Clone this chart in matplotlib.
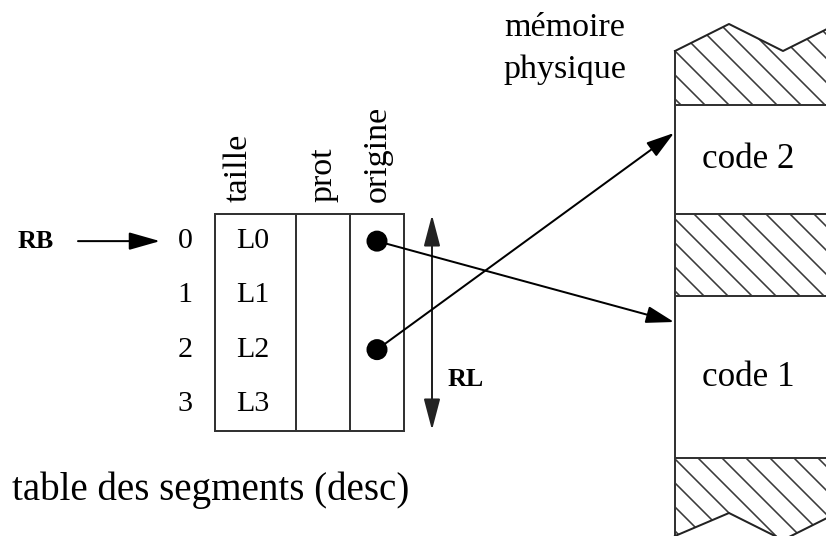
import matplotlib.pyplot as plt
from matplotlib.patches import Polygon, Rectangle, Circle

# table data
row_ids = ['0', '1', '2', '3']
sizes = ['L0', 'L1', 'L2', 'L3']
columns = ['taille', 'prot', 'origine']
# segment descriptors pointing into memory: row index -> memory block label
pointers = [(0, 'code 1'), (2, 'code 2')]
# physical memory blocks from top to bottom ('' = hatched / not allocated)
mem_blocks = ['', 'code 2', '', 'code 1', '']

# layout (pixel coords, y downwards)
W, H = 826, 536
DPI = 144
col_edges = [215, 296, 350, 404]
tab_top, row_h = 214, 54.25
mem_x = 675
mem_edges = [51, 105, 214, 296, 458, 536]

plt.rcParams['hatch.linewidth'] = 0.8
serif = 'Liberation Serif'

fig = plt.figure(figsize=(W / DPI, H / DPI), dpi=DPI)
ax = fig.add_axes([0, 0, 1, 1])
ax.set_xlim(0, W)
ax.set_ylim(H, 0)
ax.axis('off')

# --- table ---
n = len(row_ids)
tab_bot = tab_top + n * row_h
ax.add_patch(Rectangle((col_edges[0], tab_top), col_edges[-1] - col_edges[0],
                       tab_bot - tab_top, fill=False, lw=1.0, ec='#333333'))
for x in col_edges[1:-1]:
    ax.plot([x, x], [tab_top, tab_bot], color='#333333', lw=1.0)

for j, name in enumerate(columns):
    xc = (col_edges[j] + col_edges[j + 1]) / 2 + [-17, 0, 0][j]
    ax.text(xc, 202, name, rotation=90, ha='center', va='bottom',
            fontsize=17, family=serif)

for i, (rid, sz) in enumerate(zip(row_ids, sizes)):
    yc = tab_top + (i + 0.5) * row_h
    ax.text(185, yc, rid, ha='center', va='center', fontsize=15, family=serif)
    ax.text(253, yc, sz, ha='center', va='center', fontsize=15, family=serif)

# RB pointer
y0 = tab_top + 0.5 * row_h
ax.text(36, y0, 'RB', ha='center', va='center', fontsize=13, family=serif,
        weight='bold')
ax.annotate('', xy=(160, y0), xytext=(78, y0),
            arrowprops=dict(arrowstyle='-|>,head_length=0.95,head_width=0.27',
                            mutation_scale=14, lw=1.0, color='black',
                            shrinkA=0, shrinkB=0))

# RL double arrow
ax.annotate('', xy=(432, tab_top + 1), xytext=(432, tab_bot - 1),
            arrowprops=dict(arrowstyle='<|-|>,head_length=0.95,head_width=0.25',
                            mutation_scale=14, lw=1.0, color='#222222',
                            shrinkA=0, shrinkB=0))
ax.text(466, 380, 'RL', ha='center', va='center', fontsize=13, family=serif,
        weight='bold')

# --- physical memory ---
jag = 54
top_jag = [(mem_x, 51), (mem_x + jag, 24), (mem_x + 2 * jag, 51), (mem_x + 3 * jag, 24)]
bot_jag = [(mem_x, 536), (mem_x + jag, 513), (mem_x + 2 * jag, 540), (mem_x + 3 * jag, 513)]
right = W + 20

for k, label in enumerate(mem_blocks):
    ya, yb = mem_edges[k], mem_edges[k + 1]
    if label == '':
        if k == 0:
            pts = [(mem_x, yb)] + top_jag + [(right, 10), (right, yb)]
        elif k == len(mem_blocks) - 1:
            pts = [(mem_x, ya), (right, ya), (right, 520)] + bot_jag[::-1]
        else:
            pts = [(mem_x, ya), (right, ya), (right, yb), (mem_x, yb)]
        ax.add_patch(Polygon(pts, closed=True, fill=False, hatch='\\\\',
                             lw=0, ec='#3a3a3a'))
    else:
        ax.text(748, (ya + yb) / 2, label, ha='center', va='center',
                fontsize=17.5, family=serif)

for y in mem_edges[1:-1]:
    ax.plot([mem_x, right], [y, y], color='#333333', lw=1.0)
ax.plot([mem_x, mem_x], [51, H + 5], color='#333333', lw=1.0)
ax.plot(*zip(*top_jag), color='#222222', lw=1.0)
ax.plot(*zip(*bot_jag), color='#222222', lw=1.0)

ax.text(565, 28, 'mémoire', ha='center', va='center', fontsize=17, family=serif)
ax.text(565, 70, 'physique', ha='center', va='center', fontsize=17, family=serif)

# origin pointers
dot_x = 377
targets = {'code 1': 322, 'code 2': 133}
for row, label in pointers:
    yc = tab_top + (row + 0.5) * row_h
    ax.add_patch(Circle((dot_x, yc), 9.5, color='black'))
    ax.annotate('', xy=(mem_x - 1, targets[label]), xytext=(dot_x, yc),
                arrowprops=dict(arrowstyle='-|>,head_length=0.85,head_width=0.26',
                                mutation_scale=14, lw=1.0, color='black',
                                shrinkA=0, shrinkB=0))

ax.text(211, 490, 'table des segments (desc)', ha='center', va='center',
        fontsize=19.5, family=serif)

fig.savefig('out.png', dpi=DPI)
